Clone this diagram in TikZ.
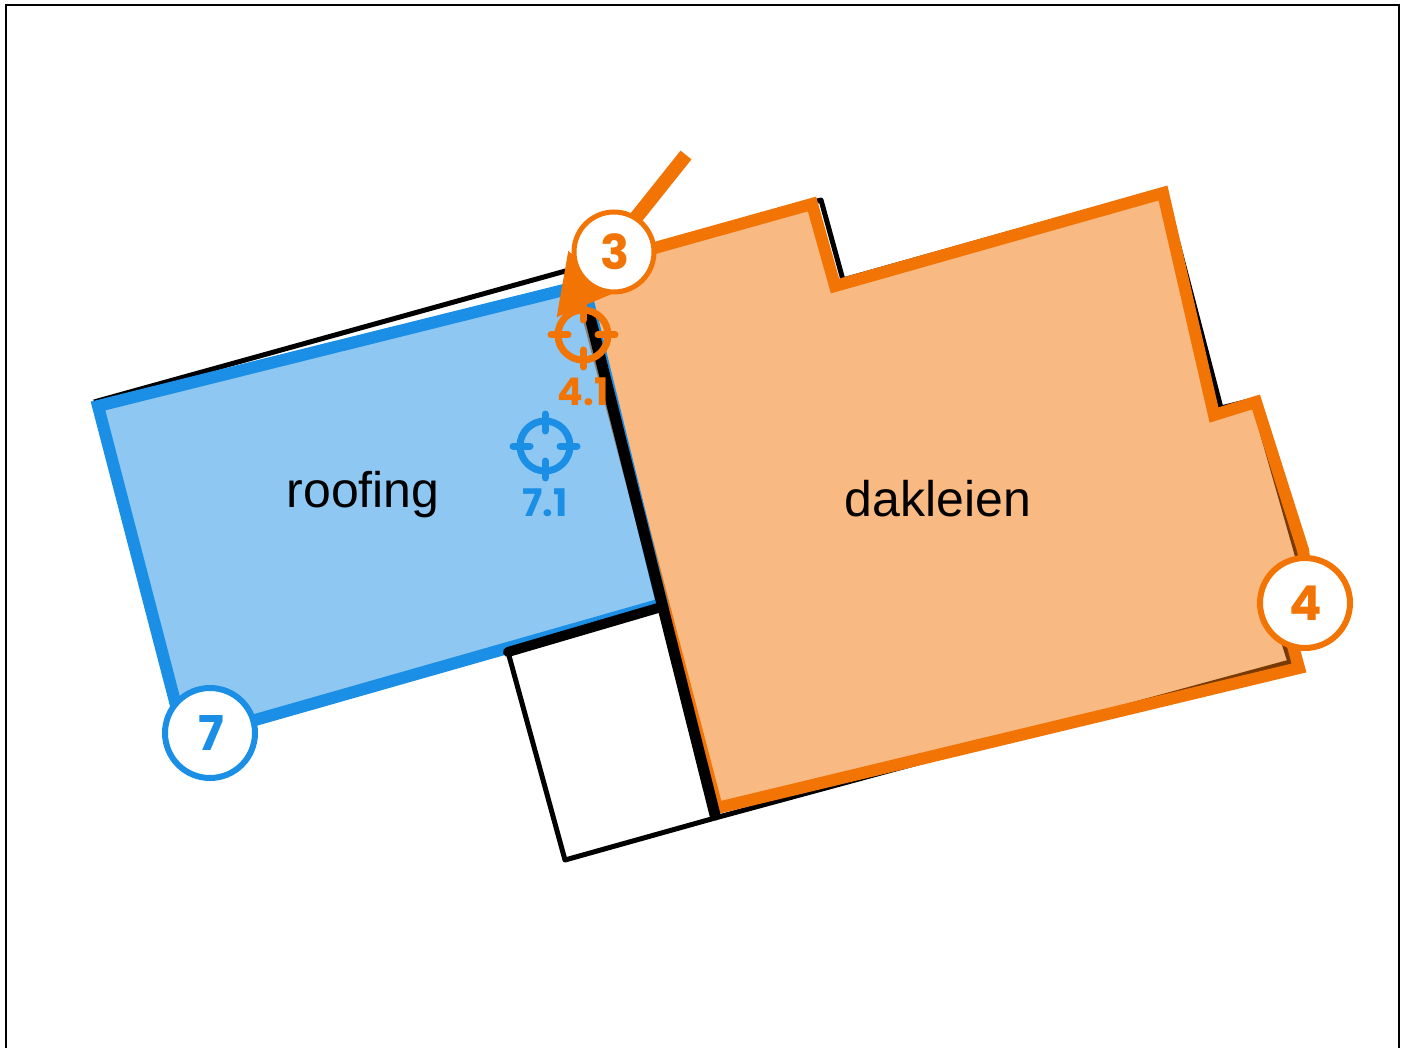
\documentclass[tikz,border=0pt]{standalone}
\usepackage{fontspec}
\setmainfont{Liberation Sans}
\newfontfamily\badgefont{Poppins}
\usetikzlibrary{arrows.meta}
\definecolor{roofblue}{HTML}{1B8FE5}
\definecolor{slateorange}{HTML}{F27405}
\newcommand\badgenum[1]{\hspace{2pt}\raisebox{-2pt}{#1}}
\tikzset{
  outline/.style={draw=black, line width=5pt, line join=round},
  heavyline/.style={draw=black, line width=11pt, line cap=round},
  area/.style={draw=#1, fill=#1, fill opacity=.5, line width=12pt, line join=miter},
  badge/.style={circle, draw=#1, fill=white, text=#1, line width=6pt, inner sep=0pt,
                minimum size=90pt, font=\badgefont\bfseries\fontsize{48}{48}\selectfont},
  target/.style={circle, draw=#1, line width=7pt, inner sep=0pt, minimum size=50pt},
  targettick/.style={draw=#1, line width=7pt, line cap=round},
  targetlabel/.style={text=#1, inner sep=0pt, font=\badgefont\bfseries\fontsize{38}{38}\selectfont},
  arealabel/.style={inner sep=0pt, font=\fontsize{50}{50}\selectfont}
}
\begin{document}
\begin{tikzpicture}[x=1pt, y=-1pt]
\useasboundingbox (0,0) rectangle (1405,1048);
\draw[line width=2.5pt] (6,1048) -- (6,5) -- (1399,5) -- (1399,1048);
% building outline
\draw[outline] (94,402) -- (821,200) -- (843,280) -- (1164,190) -- (1221,408) -- (1253,400)
   -- (1300,565) -- (1283,640) -- (1290,662) -- (715,818) -- (565,860) -- (508,652);
% areas
\draw[area=slateorange] (576,270) -- (812,204) -- (835,286) -- (1163,193) -- (1214,415)
   -- (1256,402) -- (1303,550) -- (1310,600) -- (1290,635) -- (1299,668) -- (717,808) -- cycle;
\draw[area=roofblue] (98,406) -- (584,285) -- (662,604) -- (185,740) -- cycle;
\draw[heavyline, line width=10pt] (508,652) -- (658,608);
\draw[heavyline] (590,317) -- (715,815);
\node[arealabel] (roofing) at (363,495) {roofing};
\node[arealabel] (dakleien) at (938,499) {dakleien};
% targets
\foreach \nm/\col/\x/\y/\txt in {a/slateorange/583/335/4.1, b/roofblue/545/446/7.1}{
  \node[target=\col] (t\nm) at (\x,\y) {};
  \foreach \a in {0,90,180,270}
    \draw[targettick=\col] (t\nm.center) ++(\a:15) -- ++(\a:17);
  \node[targetlabel=\col, below=43pt] (l\nm) at (t\nm.center) {\txt};
}
% badges
\coordinate (pointerstart) at (686,155);
\coordinate (pointertip) at (556,318);
\draw[slateorange, line width=14pt, -{Triangle[length=60pt,width=60pt]}] (pointerstart) -- (pointertip);
\node[badge=slateorange, line width=5pt, minimum size=80pt] (b3) at (614,252) {\badgenum{3}};
\node[badge=slateorange] (b4) at (1305,603) {\badgenum{4}};
\node[badge=roofblue] (b7) at (210,733) {\badgenum{7}};
\end{tikzpicture}
\end{document}
